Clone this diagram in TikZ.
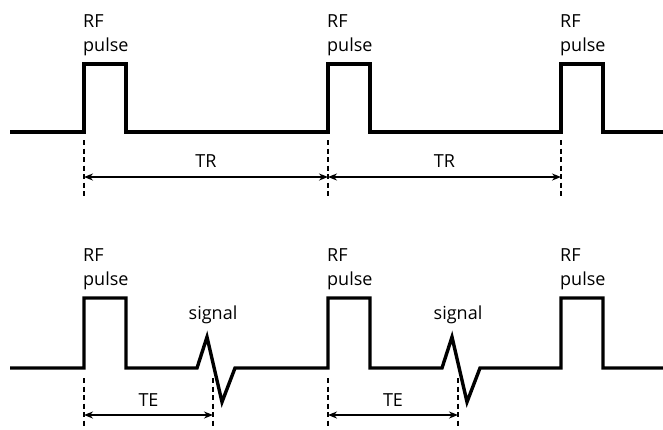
\documentclass[tikz,border=0pt]{standalone}
\usepackage{fontspec}
\setmainfont{Open Sans}
\usetikzlibrary{arrows.meta}
\begin{document}
\begin{tikzpicture}[x=1pt, y=-1pt,
  onda/.style={line width=3.4pt, line join=miter},
  guia/.style={line width=1.6pt, dash pattern=on 5pt off 3.5pt},
  cota/.style={line width=1.8pt, {Stealth[length=9pt,width=7pt]}-{Stealth[length=9pt,width=7pt]}},
  rotulo/.style={inner sep=0pt, font=\fontsize{18}{24}\selectfont, align=left}
]
\useasboundingbox (0,0) rectangle (663,429);

\draw[onda] (10,132) -- (84,132) -- (84,64) -- (126,64) -- (126,132) -- (328,132) -- (328,64) -- (370,64) -- (370,132)
  -- (561,132) -- (561,64) -- (603,64) -- (603,132) -- (663,132);
\draw[onda] (10,368) -- (84,368) -- (84,298) -- (126,298) -- (126,368) -- (197,368) -- (207,337) -- (222,402) -- (235,368)
  -- (328,368) -- (328,298) -- (370,298) -- (370,368) -- (442,368) -- (452,337) -- (467,402) -- (480,368)
  -- (561,368) -- (561,298) -- (603,298) -- (603,368) -- (663,368);

\foreach \x/\n in {84/a,328/b,561/c} {
  \node[rotulo, anchor=north west] (rf\n) at (\x-1,14) {RF\\pulse};
  \node[rotulo, anchor=north west] (rfe\n) at (\x-1,248) {RF\\pulse};
  \draw[guia] (\x,140) -- (\x,197);
  \coordinate (tr\n) at (\x,177);
}
\foreach \x/\n in {84/a,213/b,328/c,458/d} {
  \draw[guia] (\x,378) -- (\x,427);
  \coordinate (te\n) at (\x,415);
}
\node[rotulo, anchor=base] (senal1) at (213,319) {signal};
\node[rotulo, anchor=base] (senal2) at (458,319) {signal};

\draw[cota] (tra) -- (trb) node[midway, above=9pt, rotulo] (tr1) {TR};
\draw[cota] (trb) -- (trc) node[midway, above=9pt, rotulo] (tr2) {TR};
\draw[cota] (tea) -- (teb) node[midway, above=8pt, rotulo] (te1) {TE};
\draw[cota] (tec) -- (ted) node[midway, above=8pt, rotulo] (te2) {TE};
\end{tikzpicture}
\end{document}
